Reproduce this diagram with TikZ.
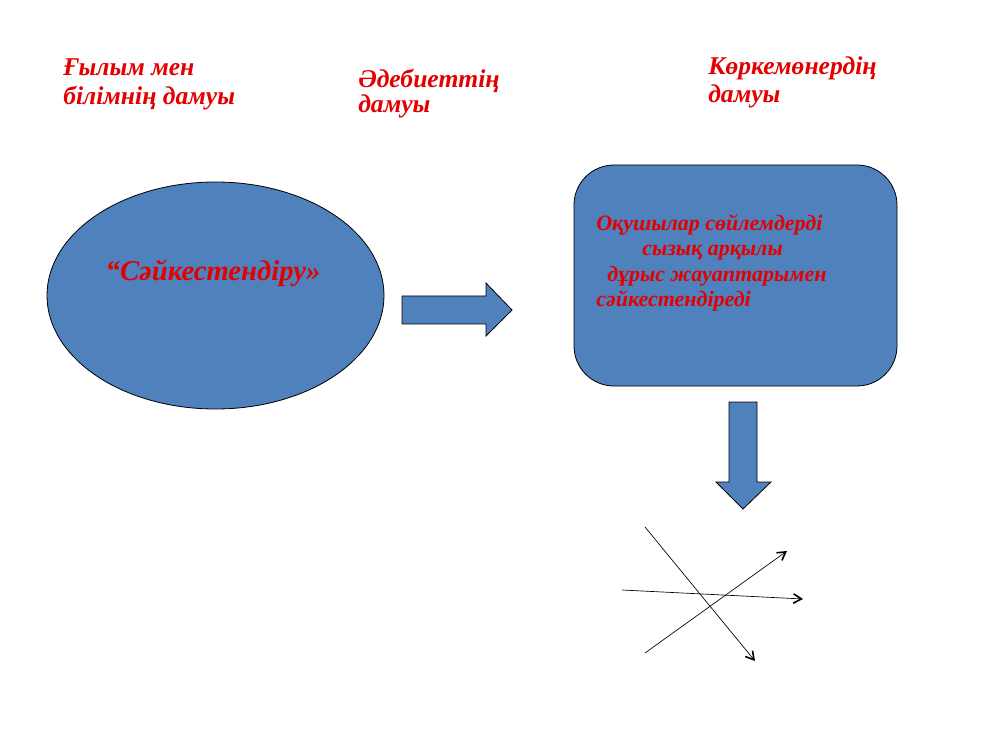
\documentclass[tikz,border=0pt]{standalone}
\usepackage{fontspec}
\setmainfont{Liberation Serif}
\usetikzlibrary{arrows.meta,shapes.geometric}
\definecolor{boxblue}{RGB}{79,129,189}
\definecolor{txtred}{RGB}{228,0,0}
\begin{document}
\begin{tikzpicture}[x=0.75pt,y=-0.75pt,
  lbl/.style={anchor=base west,inner sep=0pt,text=txtred,font=\fontsize{19.2}{23}\selectfont\bfseries\itshape},
  boxtxt/.style={anchor=base west,inner sep=0pt,text=txtred,font=\fontsize{16.5}{20}\selectfont\bfseries\itshape},
  shapefill/.style={fill=boxblue,draw=black,line width=0.6pt},
  thin line/.style={draw=black,line width=0.5pt,-{Straight Barb[length=6pt,width=7pt,line width=1.2pt]}}]
\useasboundingbox (0,0) rectangle (1008,756);
% headers
\node[lbl] (h1a) at (63,76) {Ғылым мен};
\node[lbl] (h1b) at (63,105) {білімнің дамуы};
\node[lbl] (h2a) at (358,88) {Әдебиеттің};
\node[lbl] (h2b) at (358,113) {дамуы};
\node[lbl] (h3a) at (708,75) {Көркемөнердің};
\node[lbl] (h3b) at (708,103) {дамуы};
% ellipse
\node[shapefill,ellipse,minimum width=337*0.75pt,minimum height=227*0.75pt,inner sep=0pt] (ell) at (215.5,295.5) {};
\node[anchor=base,inner sep=0pt,text=txtred,font=\fontsize{21.5}{25}\selectfont\bfseries\itshape] (elltxt) at (213,281) {“Сәйкестендіру»};
% right block arrow
\draw[shapefill] (402,296) -- (486,296) -- (486,283) -- (512,310) -- (486,336) -- (486,324) -- (402,324) -- cycle;
% rounded box
\draw[shapefill,rounded corners=40*0.75pt] (574,165) rectangle (897,386);
\node[boxtxt] (b1) at (596,231) {Оқушылар сөйлемдерді};
\node[boxtxt] (b2) at (642,256) {сызық арқылы};
\node[boxtxt] (b3) at (607,282) {дұрыс жауаптарымен};
\node[boxtxt] (b4) at (596,307) {сәйкестендіреді};
% down block arrow
\draw[shapefill] (729,402) -- (757,402) -- (757,482) -- (771,482) -- (743,509) -- (716,482) -- (729,482) -- cycle;
% crossing lines
\coordinate (l1s) at (645,527); \coordinate (l1e) at (755,661);
\coordinate (l2s) at (622,590); \coordinate (l2e) at (803,599);
\coordinate (l3s) at (645,653); \coordinate (l3e) at (787,551);
\draw[thin line] (l1s) -- (l1e);
\draw[thin line] (l2s) -- (l2e);
\draw[thin line] (l3s) -- (l3e);
\end{tikzpicture}
\end{document}
